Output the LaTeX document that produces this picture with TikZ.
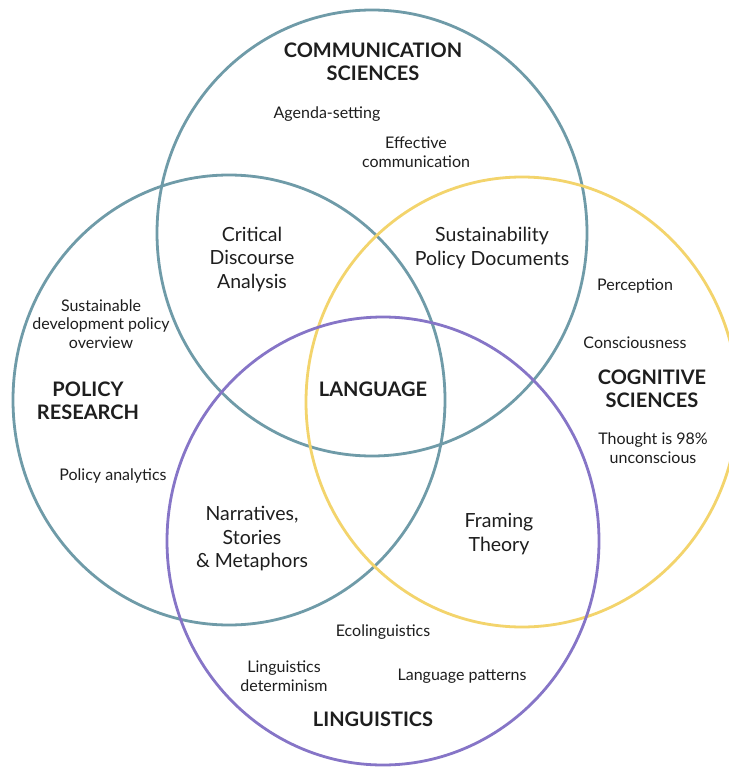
\documentclass[tikz,border=0pt]{standalone}
\usepackage{fontspec}
\setmainfont{Lato}
\definecolor{tealc}{HTML}{6F9BA8}
\definecolor{yellowc}{HTML}{F3D46C}
\definecolor{purplec}{HTML}{8675C7}
\definecolor{txt}{HTML}{1E1E1E}
\begin{document}
\begin{tikzpicture}[x=1pt,y=-1pt,
  ring/.style={line width=2.8pt},
  head/.style={text=txt,align=center,font=\fontsize{20}{23.5}\selectfont\bfseries},
  mid/.style={text=txt,align=center,font=\fontsize{19.5}{23.5}\selectfont},
  small/.style={text=txt,align=center,font=\fontsize{16}{18.5}\selectfont}]
\useasboundingbox (0,0) rectangle (728,767);
\fill[white] (0,0) rectangle (728,767);
% circles
\coordinate (cComm) at (372,233);
\coordinate (cPol) at (229,400);
\coordinate (cCog) at (522,402);
\coordinate (cLing) at (383,541);
\draw[ring,tealc] (cComm) ellipse [x radius=215, y radius=223];
\draw[ring,tealc] (cPol) ellipse [x radius=216, y radius=225];
\draw[ring,yellowc] (cCog) ellipse [x radius=216, y radius=225];
\draw[ring,purplec] (cLing) ellipse [x radius=216, y radius=224];
% headings
\node[head] (comm) at (373,62) {COMMUNICATION\\SCIENCES};
\node[head] (pol) at (88,401) {POLICY\\RESEARCH};
\node[head] (cog) at (652,389) {COGNITIVE\\SCIENCES};
\node[head] (ling) at (373,719) {LINGUISTICS};
\node[head] (lang) at (373,389) {LANGUAGE};
% intersections
\node[mid] (cda) at (252,259) {Critical\\Discourse\\Analysis};
\node[mid] (spd) at (492,248) {Sustainability\\Policy Documents};
\node[mid] (nsm) at (252,539) {Narratives,\\Stories\\\& Metaphors};
\node[mid] (ft) at (499,534) {Framing\\Theory};
% small labels
\node[small] (agenda) at (327,114) {Agenda-setting};
\node[small] (effc) at (416,152) {Effective\\communication};
\node[small] (sdpo) at (101,324) {Sustainable\\development policy\\overview};
\node[small] (pa) at (113,476) {Policy analytics};
\node[small] (perc) at (635,286) {Perception};
\node[small] (cons) at (635,343) {Consciousness};
\node[small] (thought) at (653,448) {Thought is 98\%\\unconscious};
\node[small] (eco) at (383,632) {Ecolinguistics};
\node[small] (ldet) at (284,676) {Linguistics\\determinism};
\node[small] (lpat) at (462,676) {Language patterns};
\end{tikzpicture}
\end{document}
